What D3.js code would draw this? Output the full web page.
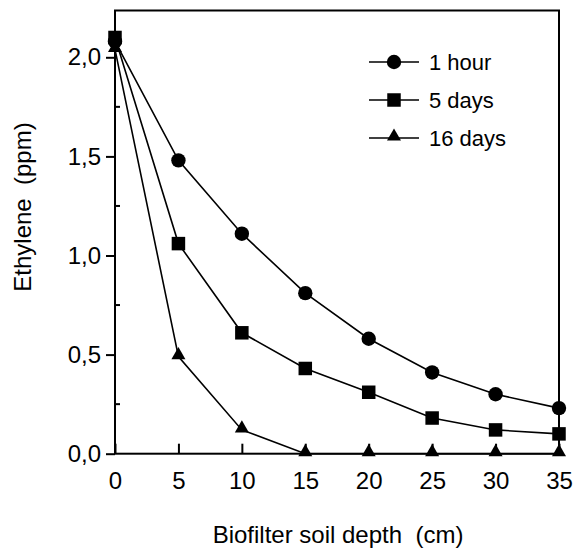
<!DOCTYPE html>
<html>
<head>
<meta charset="utf-8">
<script src="https://cdn.jsdelivr.net/npm/d3@7"></script>
<style>
  body { margin: 0; background: #fff; }
  svg text { font-family: "Liberation Sans", Arial, sans-serif; fill: #000; }
</style>
</head>
<body>
<script>
const width = 574;
const height = 548;

// depth (cm)
const depths = [0, 5, 10, 15, 20, 25, 30, 35];
// ethylene (ppm)
const oneHour = [2.08, 1.48, 1.11, 0.81, 0.58, 0.41, 0.30, 0.23];
const fiveDays = [2.10, 1.06, 0.61, 0.43, 0.31, 0.18, 0.12, 0.10];
const sixteenDays = [2.04, 0.49, 0.12, 0, 0, 0, 0, 0];

const seriesNames = ["1 hour", "5 days", "16 days"];
const seriesShapes = ["circle", "square", "triangle"];
const xTicks = [0, 5, 10, 15, 20, 25, 30, 35];
const yTicks = [0, 0.5, 1.0, 1.5, 2.0];
const yMinor = [0.25, 0.75, 1.25, 1.75];

const series = [oneHour, fiveDays, sixteenDays].map((vals, i) => ({
  name: seriesNames[i],
  shape: seriesShapes[i],
  points: depths.map((d, j) => ({ x: d, y: vals[j] }))
}));

const plotLeft = 115, plotRight = 559, plotTop = 10.5, plotBottom = 453.7;

const x = d3.scaleLinear().domain([0, 35]).range([plotLeft, plotRight]);
const y = d3.scaleLinear().domain([0, 2]).range([plotBottom, 57.3]);

const svg = d3.select("body").append("svg")
  .attr("width", width)
  .attr("height", height);

const symbols = {
  circle: d3.symbol().type(d3.symbolCircle).size(Math.PI * 7.2 * 7.2),
  square: d3.symbol().type(d3.symbolSquare).size(13.5 * 13.5),
  triangle: d3.symbol().type(d3.symbolTriangle).size(85)
};

// frame
svg.append("rect")
  .attr("x", plotLeft).attr("y", plotTop)
  .attr("width", plotRight - plotLeft).attr("height", plotBottom - plotTop)
  .attr("fill", "none").attr("stroke", "#000").attr("stroke-width", 2);

// x axis: major ticks inside
const xAxis = d3.axisBottom(x).tickValues(xTicks).tickSize(-10)
  .tickFormat(d3.format("d"));
const gx = svg.append("g").attr("transform", `translate(0,${plotBottom})`).call(xAxis);
gx.select(".domain").remove();
gx.selectAll("line").attr("stroke-width", 2);
gx.selectAll("text").attr("font-size", 24).attr("dy", "0.71em").attr("y", 18);

// y axis: major ticks outside, minor inside
const yAxis = d3.axisLeft(y).tickValues(yTicks).tickSize(9).tickPadding(5)
  .tickFormat(d => d3.format(".1f")(d).replace(".", ","));
const gy = svg.append("g").attr("transform", `translate(${plotLeft},0)`).call(yAxis);
gy.select(".domain").remove();
gy.selectAll("line").attr("stroke-width", 2);
gy.selectAll("text").attr("font-size", 24);

svg.append("g").selectAll("line")
  .data(yMinor)
  .join("line")
  .attr("x1", plotLeft).attr("x2", plotLeft + 5)
  .attr("y1", d => y(d)).attr("y2", d => y(d))
  .attr("stroke", "#000").attr("stroke-width", 2);

// lines and markers
const line = d3.line().x(d => x(d.x)).y(d => y(d.y));

series.forEach(s => {
  svg.append("path")
    .datum(s.points)
    .attr("d", line)
    .attr("fill", "none")
    .attr("stroke", "#000")
    .attr("stroke-width", 1.6);
});

series.forEach(s => {
  svg.append("g").selectAll("path")
    .data(s.points)
    .join("path")
    .attr("d", symbols[s.shape])
    .attr("transform", d => `translate(${x(d.x)},${y(d.y) + (s.shape === "triangle" ? -1.5 : 0)})`)
    .attr("fill", "#000");
});

// legend
const legend = svg.append("g");
series.forEach((s, i) => {
  const ly = 62 + i * 38;
  legend.append("line")
    .attr("x1", 369).attr("x2", 419)
    .attr("y1", ly).attr("y2", ly)
    .attr("stroke", "#000").attr("stroke-width", 1.6);
  legend.append("path")
    .attr("d", symbols[s.shape])
    .attr("transform", `translate(394,${ly + (s.shape === "triangle" ? -1.5 : 0)})`)
    .attr("fill", "#000");
  legend.append("text")
    .attr("x", 429).attr("y", ly)
    .attr("dy", "0.36em")
    .attr("font-size", 22)
    .text(s.name);
});

// axis titles
svg.append("text")
  .attr("x", 338).attr("y", 542.5)
  .attr("text-anchor", "middle")
  .attr("font-size", 24)
  .attr("xml:space", "preserve")
  .text("Biofilter soil depth  (cm)");

svg.append("text")
  .attr("transform", "translate(31,207) rotate(-90)")
  .attr("text-anchor", "middle")
  .attr("font-size", 24)
  .attr("xml:space", "preserve")
  .text("Ethylene  (ppm)");
</script>
</body>
</html>
